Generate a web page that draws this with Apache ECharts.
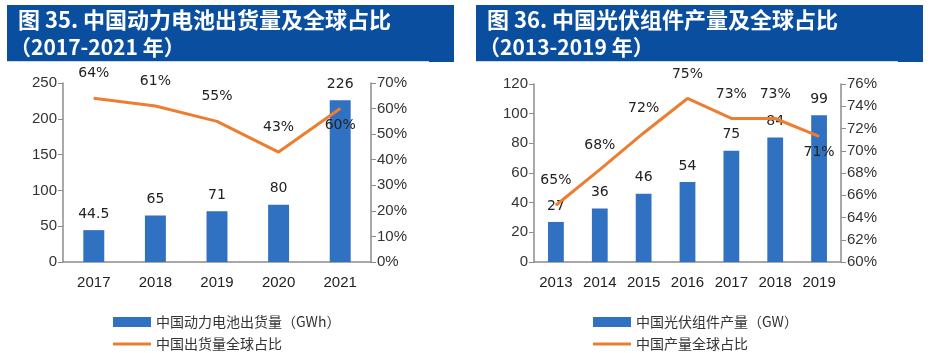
<!DOCTYPE html>
<html>
<head>
<meta charset="utf-8">
<script src="https://cdn.jsdelivr.net/npm/echarts@6/dist/echarts.min.js"></script>
<style>
html, body { margin: 0; padding: 0; background: #fff; }
#main { width: 931px; height: 353px; }
</style>
</head>
<body>
<div id="main"></div>
<script>
// 图35 数据
var batteryYears = ['2017', '2018', '2019', '2020', '2021'];
var batteryShipment = [44.5, 65, 71, 80, 226];
var batteryShare = [64, 61, 55, 43, 60];

// 图36 数据
var pvYears = ['2013', '2014', '2015', '2016', '2017', '2018', '2019'];
var pvOutput = [27, 36, 46, 54, 75, 84, 99];
var pvShare = [65.1, 68.3, 71.6, 74.7, 72.9, 72.9, 71.3];

var blue = '#3171c1';
var orange = '#ed7d31';
var headBlue = '#0a4f9f';
var axisGrey = '#8c8c8c';
var labelFont = 'DejaVu Sans, Verdana, sans-serif';
var axisFont = 'Liberation Sans, Arial, sans-serif';
var cjkFont = '"Noto Sans CJK SC", sans-serif';

var myChart = echarts.init(document.getElementById('main'));

// 最后一个点的标签放在线下方
function shareData(arr) {
    return arr.map(function (v, i) {
        if (i === arr.length - 1) {
            return { value: v, label: { position: 'bottom', distance: 9 } };
        }
        return v;
    });
}

function header(x, w, line1, line2) {
    return [{
        type: 'rect',
        shape: { x: x, y: 5, width: w, height: 57 },
        style: { fill: headBlue }
    }, {
        type: 'rect',
        shape: { x: x, y: 61, width: w - 25, height: 1 },
        style: { fill: '#c9d8ee' }
    }, {
        type: 'text',
        x: x + 11, y: 20,
        style: { text: line1, fill: '#fff', font: 'bold 22px ' + cjkFont, textVerticalAlign: 'middle' }
    }, {
        type: 'text',
        x: x + 3, y: 47,
        style: { text: line2, fill: '#fff', font: 'bold 21px ' + cjkFont, textVerticalAlign: 'middle' }
    }];
}

// 每个图例单独一行
function legendItem(left, top, name, isLine) {
    return {
        left: left, top: top,
        itemWidth: 38, itemHeight: isLine ? 3 : 10,
        textStyle: { fontSize: 14, color: '#333', fontFamily: cjkFont },
        data: [{ name: name, icon: 'rect' }]
    };
}

function valueAxis(gridIndex, pos, min, max, interval, fmt) {
    return {
        type: 'value',
        gridIndex: gridIndex,
        position: pos,
        min: min,
        max: max,
        interval: interval,
        splitLine: { show: false },
        axisLine: { show: true, lineStyle: { color: axisGrey, width: 1.5 } },
        axisTick: { show: true, length: 5, lineStyle: { color: axisGrey } },
        axisLabel: { color: '#333', fontSize: 15, fontFamily: axisFont, margin: 6, formatter: fmt }
    };
}

function catAxis(gridIndex, data) {
    return {
        type: 'category',
        gridIndex: gridIndex,
        data: data,
        axisLine: { lineStyle: { color: axisGrey, width: 1.5 } },
        axisTick: { show: false },
        axisLabel: { color: '#222', fontSize: 15, fontFamily: axisFont, margin: 13 }
    };
}

function shareLine(name, xi, yi, data) {
    return {
        name: name,
        type: 'line',
        xAxisIndex: xi, yAxisIndex: yi,
        symbol: 'circle',
        symbolSize: 1,
        z: 3,
        lineStyle: { color: orange, width: 3 },
        itemStyle: { color: orange },
        label: {
            show: true, position: 'top', distance: 17, color: '#222', fontSize: 14, fontFamily: labelFont,
            formatter: function (p) { return Math.round(p.value) + '%'; }
        },
        labelLayout: { hideOverlap: false },
        data: shareData(data)
    };
}

function volumeBar(name, xi, yi, width, data) {
    return {
        name: name,
        type: 'bar',
        xAxisIndex: xi, yAxisIndex: yi,
        barWidth: width,
        itemStyle: { color: blue },
        label: { show: true, position: 'top', distance: 9, color: '#222', fontSize: 14, fontFamily: labelFont },
        data: data
    };
}

var option = {
    animation: false,
    backgroundColor: '#fff',
    graphic: header(7, 447, '图 35. 中国动力电池出货量及全球占比', '（2017-2021 年）')
        .concat(header(476, 447, '图 36. 中国光伏组件产量及全球占比', '（2013-2019 年）')),
    grid: [
        { left: 63, right: 560, top: 83, bottom: 91 },
        { left: 534, right: 90, top: 84, bottom: 91 }
    ],
    legend: [
        legendItem(108, 310, '中国动力电池出货量（GWh）', false),
        legendItem(108, 332, '中国出货量全球占比', true),
        legendItem(588, 310, '中国光伏组件产量（GW）', false),
        legendItem(588, 332, '中国产量全球占比', true)
    ],
    xAxis: [catAxis(0, batteryYears), catAxis(1, pvYears)],
    yAxis: [
        valueAxis(0, 'left', 0, 250, 50, '{value}'),
        valueAxis(0, 'right', 0, 70, 10, '{value}%'),
        valueAxis(1, 'left', 0, 120, 20, '{value}'),
        valueAxis(1, 'right', 60, 76, 2, '{value}%')
    ],
    series: [
        volumeBar('中国动力电池出货量（GWh）', 0, 0, '34%', batteryShipment),
        shareLine('中国出货量全球占比', 0, 1, batteryShare),
        volumeBar('中国光伏组件产量（GW）', 1, 2, '36%', pvOutput),
        shareLine('中国产量全球占比', 1, 3, pvShare)
    ]
};

myChart.setOption(option);
</script>
</body>
</html>
